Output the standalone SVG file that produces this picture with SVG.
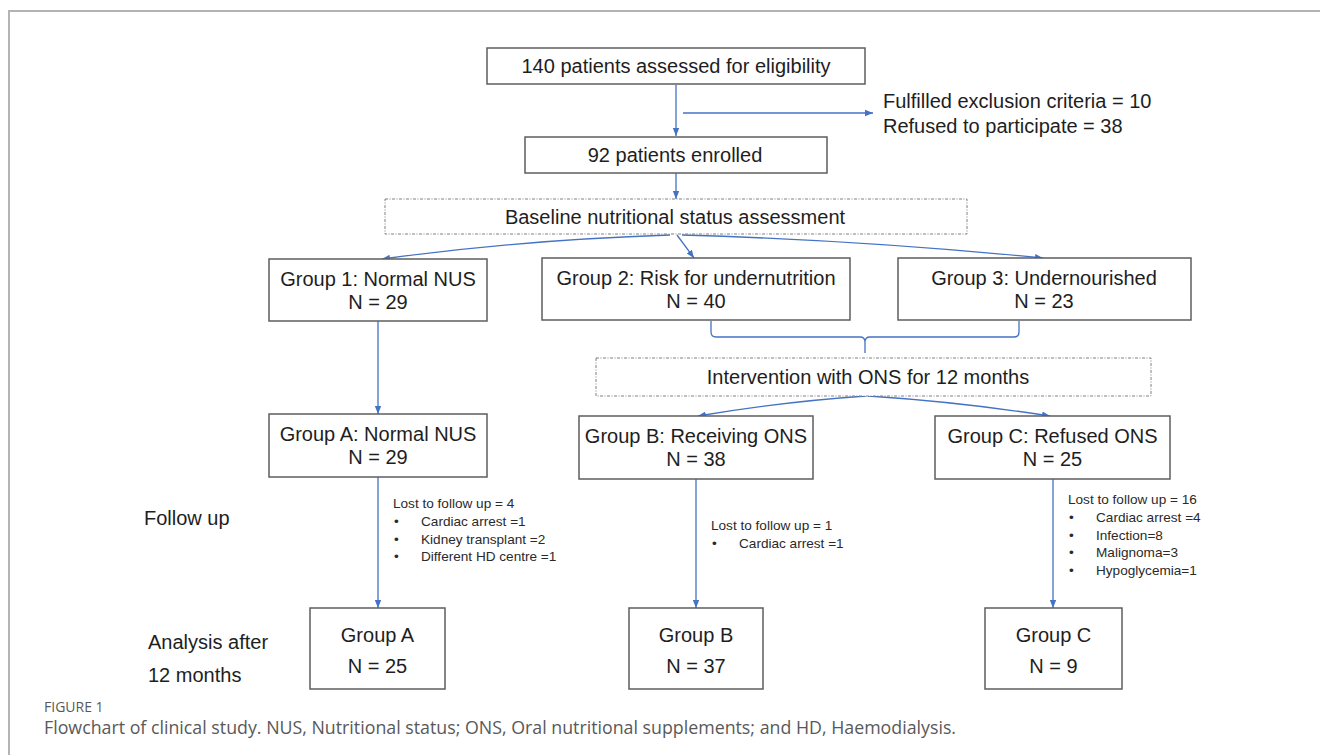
<svg xmlns="http://www.w3.org/2000/svg" width="1320" height="755" viewBox="0 0 1320 755">
<style>
  .box{fill:#fff;stroke:#5e5e5e;stroke-width:1.5}
  .dbox{fill:#fff;stroke:#808080;stroke-width:1;stroke-dasharray:3 1.5 1 1.5}
  .t{font-family:"Liberation Sans",Arial,sans-serif;font-size:20px;fill:#1e1e1e}
  .c{text-anchor:middle}
  .s{font-family:"Liberation Sans",Arial,sans-serif;font-size:13.6px;fill:#2a2a2a}
  .ln{fill:none;stroke:#4472C4;stroke-width:1.3}
  .cap{font-family:"Open Sans","Liberation Sans",sans-serif;fill:#595959}
</style>
<defs>
  <marker id="ah" viewBox="0 0 8 8" refX="8" refY="4" markerWidth="8" markerHeight="8" markerUnits="userSpaceOnUse" orient="auto">
    <path d="M0,0.8 L8,4 L0,7.2 Z" fill="#4472C4"/>
  </marker>
</defs>
<rect width="1320" height="755" fill="#fff"/>
<path d="M9,755 V11 H1320" fill="none" stroke="#b4b4b4" stroke-width="2"/>

<g id="connectors">
  <line class="ln" x1="676" y1="85" x2="676" y2="136" marker-end="url(#ah)"/>
  <line class="ln" x1="683" y1="113" x2="873" y2="113" marker-end="url(#ah)"/>
  <line class="ln" x1="676" y1="173" x2="676" y2="199" marker-end="url(#ah)"/>
  <path class="ln" d="M670,235 Q520,240 382,259" marker-end="url(#ah)"/>
  <line class="ln" x1="677" y1="235" x2="694" y2="258" marker-end="url(#ah)"/>
  <path class="ln" d="M682,235 Q860,240 1043,258" marker-end="url(#ah)"/>
  <line class="ln" x1="378" y1="321" x2="378" y2="414" marker-end="url(#ah)"/>
  <path class="ln" d="M711,321 V332 Q711,337 716,337 H860 Q865,337 865,342 V353 M865,342 Q865,337 870,337 H1014 Q1019,337 1019,332 V321"/>
  <path class="ln" d="M866,396 Q780,402 698,416" marker-end="url(#ah)"/>
  <path class="ln" d="M868,396 Q960,402 1050,416" marker-end="url(#ah)"/>
  <line class="ln" x1="378" y1="477" x2="378" y2="608" marker-end="url(#ah)"/>
  <line class="ln" x1="696" y1="479" x2="696" y2="608" marker-end="url(#ah)"/>
  <line class="ln" x1="1053" y1="479" x2="1053" y2="608" marker-end="url(#ah)"/>
</g>

<g id="assessed">
  <rect class="box" x="487" y="48" width="378" height="36"/>
  <text class="t c" x="676" y="73">140 patients assessed for eligibility</text>
</g>
<g id="excluded">
  <text class="t" x="883" y="108">Fulfilled exclusion criteria = 10</text>
  <text class="t" x="883" y="133">Refused to participate = 38</text>
</g>
<g id="enrolled">
  <rect class="box" x="525" y="137" width="302" height="36"/>
  <text class="t c" x="675" y="162">92 patients enrolled</text>
</g>
<g id="baseline">
  <rect class="dbox" x="385" y="199" width="582" height="35"/>
  <text class="t c" x="675" y="223.5">Baseline nutritional status assessment</text>
</g>
<g id="group1">
  <rect class="box" x="269" y="259" width="218" height="62"/>
  <text class="t c" x="378" y="285.5">Group 1: Normal NUS</text>
  <text class="t c" x="378" y="308.5">N = 29</text>
</g>
<g id="group2">
  <rect class="box" x="542" y="258" width="308" height="62"/>
  <text class="t c" x="696" y="284.5">Group 2: Risk for undernutrition</text>
  <text class="t c" x="696" y="307.5">N = 40</text>
</g>
<g id="group3">
  <rect class="box" x="898" y="258" width="293" height="62"/>
  <text class="t c" x="1044" y="284.5">Group 3: Undernourished</text>
  <text class="t c" x="1044" y="307.5">N = 23</text>
</g>
<g id="intervention">
  <rect class="dbox" x="596" y="358" width="555" height="38"/>
  <text class="t c" x="868" y="384">Intervention with ONS for 12 months</text>
</g>
<g id="groupA">
  <rect class="box" x="269" y="414" width="218" height="63"/>
  <text class="t c" x="378" y="441">Group A: Normal NUS</text>
  <text class="t c" x="378" y="464">N = 29</text>
</g>
<g id="groupB">
  <rect class="box" x="579" y="416" width="234" height="63"/>
  <text class="t c" x="696" y="443">Group B: Receiving ONS</text>
  <text class="t c" x="696" y="466">N = 38</text>
</g>
<g id="groupC">
  <rect class="box" x="935" y="416" width="235" height="63"/>
  <text class="t c" x="1052.5" y="443">Group C: Refused ONS</text>
  <text class="t c" x="1052.5" y="466">N = 25</text>
</g>

<g id="labels">
  <text class="t" x="144" y="525">Follow up</text>
  <text class="t" x="148" y="649">Analysis after</text>
  <text class="t" x="148" y="682">12 months</text>
</g>

<g id="lostA">
  <text class="s" x="393" y="508">Lost to follow up = 4</text>
  <text class="s" x="394" y="526">•</text><text class="s" x="421" y="526">Cardiac arrest =1</text>
  <text class="s" x="394" y="543.5">•</text><text class="s" x="421" y="543.5">Kidney transplant =2</text>
  <text class="s" x="394" y="561">•</text><text class="s" x="421" y="561">Different HD centre =1</text>
</g>
<g id="lostB">
  <text class="s" x="711" y="530">Lost to follow up = 1</text>
  <text class="s" x="712" y="548">•</text><text class="s" x="739" y="548">Cardiac arrest =1</text>
</g>
<g id="lostC">
  <text class="s" x="1068" y="504">Lost to follow up = 16</text>
  <text class="s" x="1069" y="522">•</text><text class="s" x="1096" y="522">Cardiac arrest =4</text>
  <text class="s" x="1069" y="539.5">•</text><text class="s" x="1096" y="539.5">Infection=8</text>
  <text class="s" x="1069" y="557">•</text><text class="s" x="1096" y="557">Malignoma=3</text>
  <text class="s" x="1069" y="575">•</text><text class="s" x="1096" y="575">Hypoglycemia=1</text>
</g>

<g id="groupAfinal">
  <rect class="box" x="310" y="608" width="135" height="81"/>
  <text class="t c" x="377.5" y="641.5">Group A</text>
  <text class="t c" x="377.5" y="672.5">N = 25</text>
</g>
<g id="groupBfinal">
  <rect class="box" x="629" y="608" width="134" height="81"/>
  <text class="t c" x="696" y="641.5">Group B</text>
  <text class="t c" x="696" y="672.5">N = 37</text>
</g>
<g id="groupCfinal">
  <rect class="box" x="985" y="608" width="137" height="81"/>
  <text class="t c" x="1053.5" y="641.5">Group C</text>
  <text class="t c" x="1053.5" y="672.5">N = 9</text>
</g>

<g id="caption">
  <text class="cap" x="44" y="712" font-size="14" fill="#6e6e6e">FIGURE 1</text>
  <text class="cap" x="44" y="734" font-size="17.8">Flowchart of clinical study. NUS, Nutritional status; ONS, Oral nutritional supplements; and HD, Haemodialysis.</text>
</g>
</svg>
